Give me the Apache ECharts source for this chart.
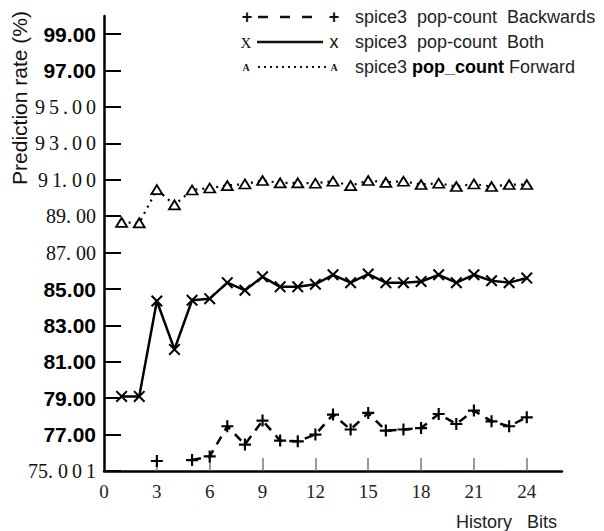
<!DOCTYPE html>
<html>
<head>
<meta charset="utf-8">
<script src="https://cdn.jsdelivr.net/npm/echarts@6/dist/echarts.min.js"></script>
<style>
  html, body { margin: 0; padding: 0; background: #fff; }
  #chart { width: 604px; height: 531px; }
</style>
</head>
<body>
<div id="chart"></div>
<script>
// ---- data ----
var historyBits = [1, 2, 3, 4, 5, 6, 7, 8, 9, 10, 11, 12, 13, 14, 15, 16, 17, 18, 19, 20, 21, 22, 23, 24];
var backwards = [null, null, 75.55, null, 75.6, 75.8, 77.46, 76.45, 77.77, 76.67, 76.63, 77.0, 78.10, 77.28, 78.19, 77.22, 77.28, 77.36, 78.13, 77.58, 78.32, 77.73, 77.46, 77.95];
var both = [79.1, 79.1, 84.34, 81.68, 84.38, 84.47, 85.35, 84.93, 85.67, 85.12, 85.12, 85.26, 85.78, 85.35, 85.82, 85.35, 85.35, 85.41, 85.78, 85.35, 85.78, 85.45, 85.35, 85.60];
var forward = [88.66, 88.63, 90.46, 89.62, 90.44, 90.55, 90.68, 90.77, 90.96, 90.83, 90.83, 90.81, 90.92, 90.68, 90.96, 90.86, 90.92, 90.74, 90.81, 90.63, 90.77, 90.63, 90.74, 90.74];
var seriesNames = ['spice3  pop-count  Backwards', 'spice3  pop-count  Both', 'spice3 pop_count Forward'];
var yTicks = [75, 77, 79, 81, 83, 85, 87, 89, 91, 93, 95, 97, 99];
var yTickLabels = ['75. 0\u20090\u20091', '77.00', '79.00', '81.00', '83.00', '85.00', '87. 00', '89. 00', '9\u20091. 0\u20090', '9\u20093\u2009.\u20090\u20090', '9\u20095\u2009.\u20090\u20090', '97.00', '99.00'];
var xLabelTicks = [0, 3, 6, 9, 12, 15, 18, 21, 24];
var xTickMarks = [3, 6, 9, 12, 15, 18, 21, 24];

// ---- styles ----
var boldTicks = [77, 79, 81, 83, 85, 97, 99];
var plusPath = 'path://M4.1,0H5.9V10H4.1Z M0,4.1H10V5.9H0Z';
var crossPath = 'path://M0,1.2L1.2,0L10,8.8L8.8,10Z M8.8,0L10,1.2L1.2,10L0,8.8Z';

function pairs(arr) {
  return historyBits.map(function (x, i) { return [x, arr[i]]; });
}

var chart = echarts.init(document.getElementById('chart'), null, { renderer: 'svg' });

var legendY = [17, 42, 67];
var graphics = [
  { type: 'text', x: 19, y: 98, rotation: Math.PI / 2,
    style: { text: 'Prediction rate (%)', font: '21px "Liberation Sans", Arial, sans-serif', fill: '#111', align: 'center', verticalAlign: 'middle' } },
  // legend row 1
  { type: 'text', x: 247, y: legendY[0], style: { text: '+', font: 'bold 18px "Liberation Sans", sans-serif', fill: '#111', align: 'center', verticalAlign: 'middle' } },
  { type: 'line', shape: { x1: 258, y1: legendY[0], x2: 322, y2: legendY[0] }, style: { stroke: '#111', lineWidth: 2.5, lineDash: [10, 12] } },
  { type: 'text', x: 334, y: legendY[0], style: { text: '+', font: 'bold 18px "Liberation Sans", sans-serif', fill: '#111', align: 'center', verticalAlign: 'middle' } },
  { type: 'text', x: 355, y: legendY[0], style: { text: seriesNames[0], font: '18px "Liberation Sans", Arial, sans-serif', fill: '#222', align: 'left', verticalAlign: 'middle' } },
  // legend row 2
  { type: 'text', x: 246, y: legendY[1] + 1, style: { text: 'X', font: '15px "Liberation Serif", serif', fill: '#111', align: 'center', verticalAlign: 'middle' } },
  { type: 'line', shape: { x1: 257, y1: legendY[1], x2: 323, y2: legendY[1] }, style: { stroke: '#111', lineWidth: 2.5 } },
  { type: 'text', x: 334, y: legendY[1], style: { text: 'x', font: '18px "Liberation Sans", sans-serif', fill: '#111', align: 'center', verticalAlign: 'middle' } },
  { type: 'text', x: 355, y: legendY[1], style: { text: seriesNames[1], font: '18px "Liberation Sans", Arial, sans-serif', fill: '#222', align: 'left', verticalAlign: 'middle' } },
  // legend row 3
  { type: 'text', x: 246, y: legendY[2], style: { text: 'A', font: 'bold 10px "Liberation Serif", serif', fill: '#111', align: 'center', verticalAlign: 'middle' } },
  { type: 'line', shape: { x1: 258, y1: legendY[2], x2: 326, y2: legendY[2] }, style: { stroke: '#111', lineWidth: 2, lineDash: [2, 4] } },
  { type: 'text', x: 334, y: legendY[2], style: { text: 'A', font: 'bold 10px "Liberation Serif", serif', fill: '#111', align: 'center', verticalAlign: 'middle' } },
  { type: 'text', x: 355, y: legendY[2], style: {
      text: '{a|spice3 }{b|pop_count}{a| Forward}',
      rich: {
        a: { font: '18px "Liberation Sans", Arial, sans-serif', fill: '#222' },
        b: { font: 'bold 18px "Liberation Sans", Arial, sans-serif', fill: '#000' }
      },
      align: 'left', verticalAlign: 'middle' } }
];

var option = {
  animation: false,
  backgroundColor: '#fff',
  grid: { left: 104, right: 42, top: 16, bottom: 60, containLabel: false },
  xAxis: {
    type: 'value', min: 0, max: 26,
    name: 'History   Bits',
    nameLocation: 'end',
    nameGap: -5,
    nameTextStyle: { align: 'right', verticalAlign: 'top', padding: [42, 0, 0, 0], fontFamily: '"Liberation Sans", Arial, sans-serif', fontSize: 18, color: '#222' },
    axisLine: { show: true, lineStyle: { color: '#000', width: 2.5 } },
    axisTick: { show: true, inside: true, length: 13, customValues: xTickMarks, lineStyle: { color: '#777', width: 1.5 } },
    axisLabel: { customValues: xLabelTicks, margin: 11, fontFamily: '"Liberation Serif", serif', fontSize: 19, color: '#222' },
    splitLine: { show: false }
  },
  yAxis: {
    type: 'value', min: 75, max: 100,
    axisLine: { show: true, lineStyle: { color: '#000', width: 2.5 } },
    axisTick: { show: true, inside: true, length: 17, customValues: yTicks, lineStyle: { color: '#000', width: 2 } },
    axisLabel: {
      customValues: yTicks,
      margin: 8,
      formatter: function (v) {
        var i = yTicks.indexOf(v);
        if (i < 0) return '';
        return '{' + (boldTicks.indexOf(v) >= 0 ? 'b' : 's') + '|' + yTickLabels[i] + '}';
      },
      rich: {
        b: { fontFamily: '"Liberation Sans", Arial, sans-serif', fontWeight: 'bold', fontSize: 21, color: '#000' },
        s: { fontFamily: '"Liberation Serif", serif', fontSize: 20, color: '#111' }
      }
    },
    splitLine: { show: false }
  },
  graphic: graphics,
  series: [
    {
      name: seriesNames[0], type: 'line', data: pairs(backwards),
      symbol: plusPath, symbolSize: 12,
      itemStyle: { color: '#000' },
      lineStyle: { color: '#000', width: 2.5, type: [9, 7] },
      connectNulls: false
    },
    {
      name: seriesNames[1], type: 'line', data: pairs(both),
      symbol: crossPath, symbolSize: 12,
      itemStyle: { color: '#000' },
      lineStyle: { color: '#000', width: 2.5 }
    },
    {
      name: seriesNames[2], type: 'line', data: pairs(forward),
      symbol: 'triangle', symbolSize: [11, 9],
      itemStyle: { color: '#fff', borderColor: '#000', borderWidth: 1.8 },
      lineStyle: { color: '#000', width: 2.2, type: [2, 5] }
    }
  ]
};
chart.setOption(option);
</script>
</body>
</html>
